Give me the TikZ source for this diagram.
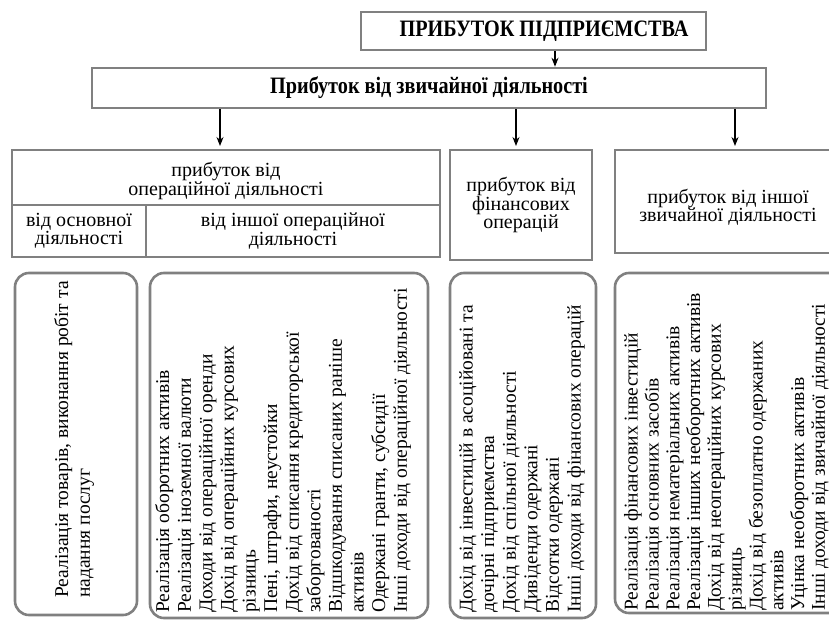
\documentclass[tikz,border=0pt]{standalone}
\usepackage{fontspec}
\usepackage{graphicx}
\setmainfont{Liberation Serif}
\usetikzlibrary{arrows.meta}
\tikzset{
  frame/.style={draw=black!50, line width=2.6pt, inner sep=0pt, align=center},
  roundframe/.style={draw=black!50, line width=2.6pt, rounded corners=14pt},
  arr/.style={-{Stealth[length=9pt,width=7pt]}, line width=1.1pt},
  title/.style={font=\fontsize{23.5}{26}\selectfont\bfseries},
  lbl/.style={font=\fontsize{20}{18.5}\selectfont, align=center},
  vlist/.style={rotate=90, anchor=north west, inner sep=0pt, align=left,
                font=\fontsize{19.5}{21.6}\selectfont},
}
\newcommand{\narrow}[1]{\scalebox{0.86}[1]{#1}}
\begin{document}
\begin{tikzpicture}[x=1pt,y=-1pt]
\useasboundingbox (0,0) rectangle (829,621);
\clip (0,0) rectangle (829,621);

% top levels
\node[frame, title, minimum width=345pt, minimum height=38pt] (top) at (533.5,31) {\hspace*{21pt}\narrow{ПРИБУТОК ПІДПРИЄМСТВА}};
\node[frame, title, minimum width=674pt, minimum height=40pt] (ordinary) at (429,88) {\narrow{Прибуток від звичайної діяльності}};

% third level
\node[frame, minimum width=428pt, minimum height=55pt] (oper) at (226,177.5) {};
\node[lbl] (opertxt) at ([yshift=-3.5pt]oper.center) {прибуток від\\операційної діяльності};
\node[frame, lbl, minimum width=134pt, minimum height=52pt] (opmain) at (79,231) {від основної\\діяльності};
\node[frame, lbl, minimum width=294pt, minimum height=52pt] (opother) at (293,231) {від іншої операційної\\діяльності};
\node[frame, lbl, minimum width=142pt, minimum height=110pt] (fin) at (521,205) {прибуток від\\фінансових\\операцій};
\node[frame, minimum width=226pt, minimum height=103pt] (other) at (728,201.5) {};
\node[lbl] (othertxt) at ([yshift=-6pt]other.center) {прибуток від іншої\\звичайної діяльності};

% connectors
\coordinate (c0) at (555,0);
\coordinate (a1) at (220,146);
\coordinate (a2) at (516,146);
\coordinate (a3) at (735,146);
\draw[arr] (top.south -| c0) -- (ordinary.north -| c0);
\draw[arr] (ordinary.south -| a1) -- (a1);
\draw[arr] (ordinary.south -| a2) -- (a2);
\draw[arr] (ordinary.south -| a3) -- (a3);

% lists of income sources
\draw[roundframe] (15,273) rectangle (137,615);
\draw[roundframe] (150,273) rectangle (428,618);
\draw[roundframe] (450,273) rectangle (596,618);
\draw[roundframe] (615,273) rectangle (845,613);

\node[vlist] (l1) at (54,598) {Реалізація товарів, виконання робіт та\\надання послуг};
\node[vlist] (l2) at (155,613) {Реалізація оборотних активів\\Реалізація іноземної валюти\\Доходи від операційної оренди\\Дохід від операційних курсових\\різниць\\Пені, штрафи, неустойки\\Дохід від списання кредиторської\\заборгованості\\Відшкодування списаних раніше\\активів\\Одержані гранти, субсидії\\Інші доходи від операційної діяльності};
\node[vlist] (l3) at (459,613) {Дохід від інвестицій в асоційовані та\\дочірні підприємства\\Дохід від спільної діяльності\\Дивіденди одержані\\Відсотки одержані\\Інші доходи від фінансових операцій};
\node[vlist, font=\fontsize{19.5}{20.8}\selectfont] (l4) at (624,611) {Реалізація фінансових інвестицій\\Реалізація основних засобів\\Реалізація нематеріальних активів\\Реалізація інших необоротних активів\\Дохід від неопераційних курсових\\різниць\\Дохід від безоплатно одержаних\\активів\\Уцінка необоротних активів\\Інші доходи від звичайної діяльності};
\end{tikzpicture}
\end{document}
